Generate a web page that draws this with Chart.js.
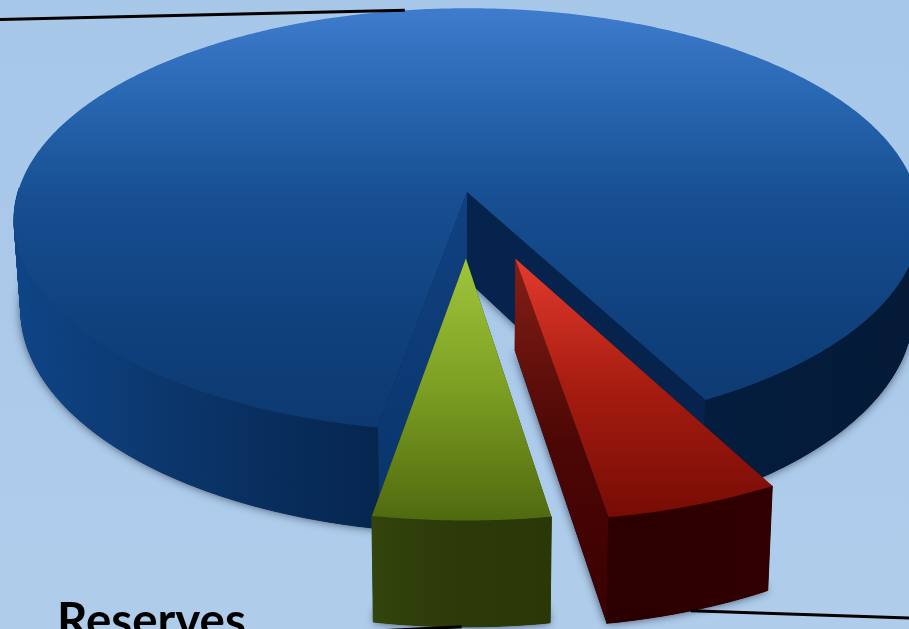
<!DOCTYPE html>
<html lang="en">
  <head>
    <meta charset="UTF-8" />
    <title>Reserves</title>
    <script src="https://cdn.jsdelivr.net/npm/chart.js@4"></script>
    <style>
      html, body { margin: 0; padding: 0; overflow: hidden; }
      body { width: 909px; height: 629px; background: linear-gradient(180deg, #a7c7e9 0%, #afcdeb 100%); }
      canvas { display: block; }
    </style>
  </head>

  <body>
    <canvas id="myChart" width="909" height="629"></canvas>

    <script>
      const categories = ["Main", "Secondary", "Reserves"];
      const seriesValues = [5.25, 5.3, 89.45];
      const sliceOffsets = [88, 83, 0];
      const startRotation = 152;

      // tilted disc: perspective strength, centre, half axes, extrusion
      const K = 0.132, CX = 467, CY = 192, SU = 449, SV = 208, DEPTH = 88, LOW = 0.985;

      const topStops = [
        [[0, "#e23b2d"], [0.5, "#a61c10"], [1, "#770c05"]],
        [[0, "#9fc63c"], [0.5, "#7c9e22"], [1, "#4f6a0f"]],
        [[0, "#3f7cce"], [0.22, "#2766b0"], [0.45, "#174f92"], [0.72, "#10427f"], [1, "#0c3970"]],
      ];
      const sideStops = [
        [[0, "#2c0000"], [1, "#300000"]],
        [[0, "#33440c"], [0.4, "#2d3b09"], [1, "#2a3808"]],
        [[0, "#0f4587"], [0.2, "#0b3468"], [0.4, "#05264f"], [0.7, "#041d40"], [1, "#041a36"]],
      ];
      const wallStops = [
        [[0, "#851f16"], [0.5, "#4c0705"], [1, "#3a0000"]],
        [[0, "#2d3b09"], [1, "#2d3b09"]],
        [[0, "#05234c"], [1, "#05234c"]],
      ];
      const blueLeftWall = [[0, "#104180"], [1, "#09346a"]];

      function project(u, v, low) {
        const w = 1 - K * v;
        const s = low ? LOW : 1;
        return [CX + (SU * s * u) / w, CY + (SV * v + (low ? DEPTH : 0)) / w];
      }

      // point of a slice in unit disc terms, r = 0 is the (moved) apex
      function slicePoint(arc, angle, r, low) {
        const p = arc.getProps(["startAngle", "endAngle", "outerRadius"], true);
        const mid = (p.startAngle + p.endAngle) / 2;
        const off = (arc.options.offset || 0) / p.outerRadius;
        return project(off * Math.cos(mid) + r * Math.cos(angle), off * Math.sin(mid) + r * Math.sin(angle), low);
      }

      function rimPoints(arc, from, to, low) {
        const pts = [];
        const n = Math.max(2, Math.ceil(Math.abs(to - from) / 0.01));
        for (let i = 0; i <= n; i++) {
          pts.push(slicePoint(arc, from + ((to - from) * i) / n, 1, low));
        }
        return pts;
      }

      function trace(ctx, pts) {
        ctx.beginPath();
        pts.forEach((p, i) => (i ? ctx.lineTo(p[0], p[1]) : ctx.moveTo(p[0], p[1])));
        ctx.closePath();
      }

      function gradient(ctx, pts, stops, horizontal) {
        const axis = horizontal ? 0 : 1;
        const vals = pts.map((p) => p[axis]);
        const a = Math.min(...vals), b = Math.max(...vals);
        const g = horizontal ? ctx.createLinearGradient(a, 0, b, 0) : ctx.createLinearGradient(0, a, 0, b);
        stops.forEach((s) => g.addColorStop(s[0], s[1]));
        return g;
      }

      function drawSlice(ctx, arc, i) {
        const { startAngle: a0, endAngle: a1 } = arc.getProps(["startAngle", "endAngle"], true);
        const topRim = rimPoints(arc, a0, a1, false);
        const lowRim = rimPoints(arc, a0, a1, true);
        const apexTop = slicePoint(arc, a0, 0, false);
        const apexLow = slicePoint(arc, a0, 0, true);
        const last = topRim.length - 1;

        // drop shadow of the whole solid
        ctx.save();
        ctx.shadowColor = "rgba(20,30,50,0.75)";
        ctx.shadowBlur = 10;
        ctx.fillStyle = "#041a36";
        trace(ctx, [apexLow, ...lowRim]);
        ctx.fill();
        ctx.restore();

        // radial walls, start edge first
        const wallA = [apexTop, topRim[0], lowRim[0], apexLow];
        const wallB = [apexTop, topRim[last], lowRim[last], apexLow];
        ctx.fillStyle = gradient(ctx, wallA, i === 2 ? blueLeftWall : wallStops[i], false);
        trace(ctx, wallA);
        ctx.fill();
        ctx.fillStyle = gradient(ctx, wallB, wallStops[i], false);
        trace(ctx, wallB);
        ctx.fill();

        // outer side, only the part facing the viewer shows
        ctx.fillStyle = gradient(ctx, [...topRim, ...lowRim], sideStops[i], true);
        ctx.strokeStyle = ctx.fillStyle;
        ctx.lineWidth = 1;
        for (let k = 0; k < last; k++) {
          const am = a0 + ((a1 - a0) * (k + 0.5)) / last;
          if (Math.sin(am) > -0.02) {
            trace(ctx, [topRim[k], topRim[k + 1], lowRim[k + 1], lowRim[k]]);
            ctx.fill();
            ctx.stroke();
          }
        }

        // top face
        const face = [apexTop, ...topRim];
        ctx.fillStyle = gradient(ctx, face, topStops[i], false);
        trace(ctx, face);
        ctx.fill();
      }

      function leader(ctx, from, to) {
        ctx.beginPath();
        ctx.moveTo(from[0], from[1]);
        ctx.lineTo(to[0], to[1]);
        ctx.strokeStyle = "#000";
        ctx.lineWidth = 3;
        ctx.stroke();
      }

      const solidPie = {
        id: "solidPie",
        beforeDatasetDraw(chart, args) {
          const ctx = chart.ctx;
          const arcs = chart.getDatasetMeta(args.index).data;
          ctx.save();
          [2, 0, 1].forEach((i) => drawSlice(ctx, arcs[i], i));

          const mid = (a) => (a.startAngle + a.endAngle) / 2;
          leader(ctx, slicePoint(arcs[2], mid(arcs[2]), 1, false), [0, 19.5]);
          leader(ctx, slicePoint(arcs[0], mid(arcs[0]), 1, true), [909, 618]);
          leader(ctx, slicePoint(arcs[1], mid(arcs[1]), 1, true), [375, 631]);

          ctx.fillStyle = "#000";
          ctx.font = "bold 47.5px Lato";
          ctx.textBaseline = "alphabetic";
          ctx.fillText(categories[2], 57, 637);
          ctx.restore();
          return false;
        },
      };

      const myChart = new Chart(document.getElementById("myChart"), {
        type: "pie",
        data: {
          labels: categories,
          datasets: [{ data: seriesValues, offset: sliceOffsets, borderWidth: 0 }],
        },
        options: {
          responsive: false,
          animation: false,
          rotation: startRotation,
          layout: { padding: 0 },
          plugins: { legend: { display: false }, tooltip: { enabled: false } },
        },
        plugins: [solidPie],
      });
    </script>
  </body>
</html>
